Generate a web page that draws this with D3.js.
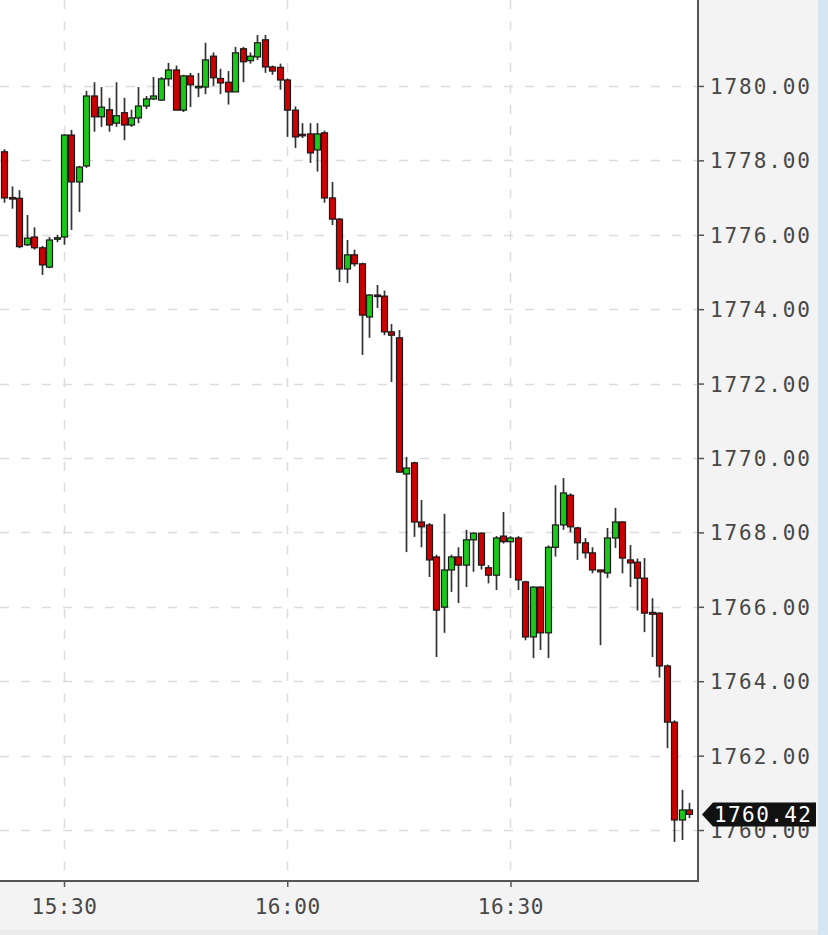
<!DOCTYPE html>
<html>
<head>
<meta charset="utf-8">
<script src="https://cdn.jsdelivr.net/npm/d3@7/dist/d3.min.js"></script>
<style>
  html, body { margin: 0; padding: 0; background: #f3f3f3; }
  svg { display: block; }
</style>
</head>
<body>
<svg id="chart" width="828" height="935"></svg>
<script>
const times = [
"15:22","15:23","15:24","15:25","15:26","15:27","15:28","15:29","15:30","15:31",
"15:32","15:33","15:34","15:35","15:36","15:37","15:38","15:39","15:40","15:41",
"15:42","15:43","15:44","15:45","15:46","15:47","15:48","15:49","15:50","15:51",
"15:52","15:53","15:54","15:55","15:56","15:57","15:58","15:59","16:00","16:01",
"16:02","16:03","16:04","16:05","16:06","16:07","16:08","16:09","16:10","16:11",
"16:12","16:13","16:14","16:15","16:16","16:17","16:18","16:19","16:20","16:21",
"16:22","16:23","16:24","16:25","16:26","16:27","16:28","16:29","16:30","16:31",
"16:32","16:33","16:34","16:35","16:36","16:37","16:38","16:39","16:40","16:41",
"16:42","16:43","16:44","16:45","16:46","16:47","16:48","16:49","16:50","16:51",
"16:52","16:53","16:54"];

const opens = [
1778.23,1777.00,1776.98,1775.73,1775.94,1775.65,1775.13,1775.88,1775.94,1778.68,
1777.42,1777.85,1779.73,1779.17,1779.36,1779.00,1779.28,1778.95,1779.14,1779.46,
1779.65,1779.62,1780.19,1780.43,1779.35,1780.27,1779.97,1779.97,1780.80,1780.20,
1780.10,1779.84,1781.00,1780.68,1780.78,1781.24,1780.51,1780.50,1780.16,1779.35,
1778.70,1778.71,1778.28,1778.74,1776.99,1776.42,1775.08,1775.46,1775.22,1773.79,
1774.38,1774.35,1773.39,1773.23,1769.57,1769.87,1768.28,1768.20,1767.34,1765.99,
1766.99,1767.34,1767.12,1767.80,1767.98,1767.05,1766.85,1767.90,1767.75,1767.85,
1766.67,1765.19,1766.53,1765.30,1767.60,1768.20,1769.00,1768.12,1767.72,1767.45,
1766.99,1766.91,1767.85,1768.28,1767.26,1767.20,1766.77,1765.85,1765.83,1764.41,
1762.90,1760.27,1760.54];

const highs = [
1778.30,1777.30,1777.20,1776.53,1776.20,1775.70,1775.94,1776.00,1778.70,1778.82,
1777.85,1779.87,1780.10,1779.97,1779.68,1780.10,1779.68,1779.36,1779.97,1779.73,
1780.24,1780.24,1780.62,1780.55,1780.30,1780.35,1780.35,1781.16,1780.90,1780.46,
1780.40,1781.05,1781.05,1780.90,1781.37,1781.37,1780.55,1780.60,1780.20,1779.45,
1779.00,1779.00,1779.00,1778.80,1777.42,1776.45,1775.86,1775.60,1775.25,1774.40,
1774.65,1774.50,1773.60,1773.44,1770.03,1769.90,1768.87,1768.25,1767.40,1768.50,
1767.40,1767.60,1768.07,1768.00,1768.00,1767.12,1767.90,1768.55,1767.90,1767.90,
1766.70,1766.55,1766.55,1767.65,1769.27,1769.46,1769.05,1768.15,1767.85,1767.60,
1767.00,1768.12,1768.66,1768.30,1767.66,1767.30,1767.31,1766.23,1765.85,1764.45,
1762.95,1761.08,1760.73];

const lows = [
1776.86,1776.70,1775.64,1775.70,1775.60,1774.92,1775.10,1775.80,1775.73,1776.13,
1776.61,1777.80,1778.77,1778.90,1778.77,1778.90,1778.54,1778.90,1779.00,1779.38,
1779.62,1779.60,1780.00,1779.35,1779.30,1779.43,1779.70,1779.78,1780.00,1779.78,
1779.50,1779.84,1780.10,1780.60,1780.70,1780.35,1780.30,1779.90,1778.63,1778.33,
1778.60,1777.93,1777.70,1776.86,1776.26,1774.73,1774.70,1775.15,1772.77,1773.23,
1774.03,1773.30,1772.04,1769.60,1767.47,1767.88,1767.60,1766.80,1764.65,1765.30,
1766.40,1766.10,1766.53,1766.94,1767.00,1766.63,1766.45,1767.70,1766.77,1766.45,
1765.10,1764.62,1764.84,1764.62,1767.35,1768.07,1768.00,1767.26,1767.30,1766.90,
1764.97,1766.77,1767.58,1766.90,1766.53,1765.90,1765.32,1764.65,1764.10,1762.20,
1759.68,1759.73,1760.32];

const closes = [
1776.99,1776.98,1775.68,1775.91,1775.65,1775.19,1775.86,1775.92,1778.68,1777.42,
1777.82,1779.73,1779.17,1779.43,1778.95,1779.20,1778.95,1779.14,1779.46,1779.65,
1779.73,1780.19,1780.43,1779.35,1780.27,1780.03,1779.99,1780.70,1780.22,1780.08,
1779.84,1780.89,1780.65,1780.80,1781.16,1780.51,1780.40,1780.16,1779.35,1778.63,
1778.66,1778.20,1778.71,1776.99,1776.42,1775.08,1775.46,1775.22,1773.84,1774.38,
1774.36,1773.39,1773.30,1769.62,1769.73,1768.28,1768.15,1767.26,1765.91,1766.99,
1767.34,1767.12,1767.80,1767.98,1767.12,1766.85,1767.85,1767.75,1767.85,1766.72,
1765.19,1766.53,1765.30,1767.60,1768.20,1769.06,1768.15,1767.72,1767.45,1766.99,
1766.94,1767.85,1768.28,1767.31,1767.18,1766.77,1765.83,1765.80,1764.41,1762.90,
1760.27,1760.54,1760.42];

const yTicks = [1760, 1762, 1764, 1766, 1768, 1770, 1772, 1774, 1776, 1778, 1780];
const xTickLabels = ["15:30", "16:00", "16:30"];
const lastPrice = 1760.42;
const xDomain = ["15:21:24", "16:55:12"];
const yDomain = [1758.63, 1782.31];

const parse = d3.timeParse("%H:%M");
const parseS = d3.timeParse("%H:%M:%S");
const data = times.map((t, i) => ({
  t: parse(t), o: opens[i], h: highs[i], l: lows[i], c: closes[i]
}));

const svg = d3.select("#chart");
const plotW = 698, plotH = 881;

const x = d3.scaleTime().domain(xDomain.map(parseS)).range([0, plotW]);
const y = d3.scaleLinear().domain(yDomain).range([plotH, 0]);

// background strips
svg.append("rect").attr("x", 0).attr("y", 0).attr("width", 828).attr("height", 935).attr("fill", "#f3f3f3");
svg.append("rect").attr("x", 818).attr("y", 0).attr("width", 10).attr("height", 935).attr("fill", "#d5e6f3");
svg.append("rect").attr("x", 0).attr("y", 930).attr("width", 818).attr("height", 5).attr("fill", "#ebebeb");

// plot area
svg.append("rect").attr("x", 0).attr("y", 0).attr("width", plotW).attr("height", plotH).attr("fill", "#ffffff");

const grid = svg.append("g");
grid.selectAll("line.h").data(yTicks).enter().append("line")
  .attr("x1", 0).attr("x2", plotW)
  .attr("y1", d => Math.round(y(d)) + 0.5).attr("y2", d => Math.round(y(d)) + 0.5)
  .attr("stroke", "#dcdcdc").attr("stroke-width", 1.5).attr("stroke-dasharray", "9,12");
grid.selectAll("line.v").data(xTickLabels).enter().append("line")
  .attr("x1", d => Math.round(x(parse(d))) + 0.5).attr("x2", d => Math.round(x(parse(d))) + 0.5)
  .attr("y1", 0).attr("y2", plotH)
  .attr("stroke", "#dcdcdc").attr("stroke-width", 1.5).attr("stroke-dasharray", "9,12");

// candles
const bw = 5;
const cg = svg.append("g");
const candle = cg.selectAll("g.c").data(data).enter().append("g");
candle.append("line")
  .attr("x1", d => Math.round(x(d.t)) + 0.5).attr("x2", d => Math.round(x(d.t)) + 0.5)
  .attr("y1", d => y(d.h)).attr("y2", d => y(d.l))
  .attr("stroke", "#333").attr("stroke-width", 1.7);
candle.append("rect")
  .attr("x", d => Math.round(x(d.t)) + 0.5 - bw / 2 - 0.5)
  .attr("y", d => y(Math.max(d.o, d.c)))
  .attr("width", bw + 1)
  .attr("height", d => Math.max(1.5, Math.abs(y(d.o) - y(d.c))))
  .attr("fill", d => d.c >= d.o ? "#19c819" : "#cc0000")
  .attr("stroke", "#1a1a1a").attr("stroke-width", 1.2);

// axes
const font = "'DejaVu Sans Mono', monospace";
const yAxis = d3.axisRight(y).tickValues(yTicks).tickSize(6).tickPadding(6).tickFormat(d3.format(".2f"));
const ya = svg.append("g").attr("transform", `translate(${plotW},0)`).call(yAxis);
ya.select(".domain").remove();
ya.selectAll(".tick line").attr("stroke", "#555").attr("stroke-width", 1.5);
ya.selectAll(".tick text").attr("fill", "#474747").style("font-family", font).style("font-size", "21px")
  .style("letter-spacing", "1.9px").attr("dy", "0.36em");

const xAxis = d3.axisBottom(x).tickValues(xTickLabels.map(parse)).tickSize(6).tickPadding(12).tickFormat(d3.timeFormat("%H:%M"));
const xa = svg.append("g").attr("transform", `translate(0,${plotH})`).call(xAxis);
xa.select(".domain").remove();
xa.selectAll(".tick line").attr("stroke", "#555").attr("stroke-width", 1.5);
xa.selectAll(".tick text").attr("fill", "#474747").style("font-family", font).style("font-size", "21px")
  .style("letter-spacing", "0.6px").attr("dy", "0.72em");

// axis lines
svg.append("line").attr("x1", plotW).attr("x2", plotW).attr("y1", 0).attr("y2", plotH + 1)
  .attr("stroke", "#555").attr("stroke-width", 2);
svg.append("line").attr("x1", 0).attr("x2", plotW + 1).attr("y1", plotH).attr("y2", plotH)
  .attr("stroke", "#555").attr("stroke-width", 2);

// last price marker
const ly = y(lastPrice);
const lg = svg.append("g");
lg.append("path")
  .attr("d", `M${plotW + 4},${ly} L${plotW + 15},${ly - 12} L${816},${ly - 12} L${816},${ly + 12} L${plotW + 15},${ly + 12} Z`)
  .attr("fill", "#111");
lg.append("text").attr("x", plotW + 16).attr("y", ly).attr("dy", "0.36em")
  .attr("fill", "#fff").style("font-family", font).style("font-size", "21px").style("letter-spacing", "1.4px")
  .text(d3.format(".2f")(lastPrice));
</script>
</body>
</html>
